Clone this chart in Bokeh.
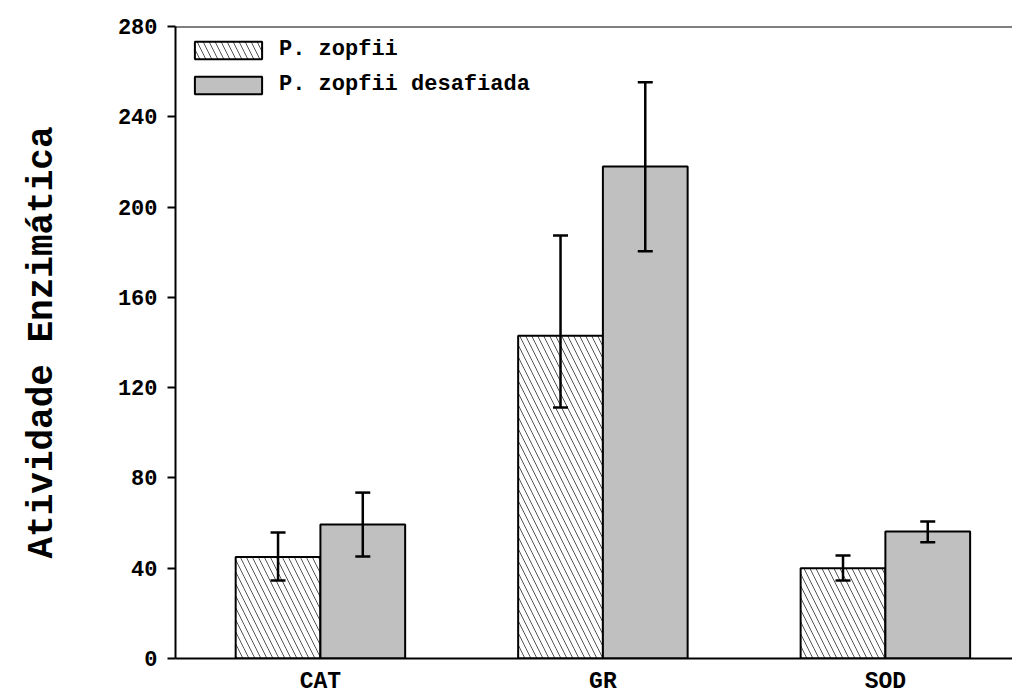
from bokeh.plotting import figure
from bokeh.models import (ColumnDataSource, Range1d, FixedTicker, Whisker, TeeHead,
                          Span, Legend, LegendItem)
from bokeh.embed import file_html
from bokeh.resources import INLINE

categories = ["CAT", "GR", "SOD"]
series_names = ["P. zopfii", "P. zopfii desafiada"]
zopfii = [45, 143, 40]
zopfii_upper = [55.8, 187.4, 45.6]
zopfii_lower = [34.6, 111.2, 34.6]
desafiada = [59.4, 218, 56.3]
desafiada_upper = [73.5, 255.3, 60.7]
desafiada_lower = [45.2, 180.4, 51.5]
y_ticks = [0, 40, 80, 120, 160, 200, 240, 280]

FONT = "Liberation Mono"
bw = 0.30
xs = list(range(len(categories)))

p = figure(width=1012, height=697, output_backend="svg", toolbar_location=None,
           x_range=Range1d(-0.513, 2.45), y_range=Range1d(0, 280),
           min_border_left=175, min_border_right=0, min_border_top=26, min_border_bottom=39)
p.outline_line_color = None
p.grid.grid_line_color = None
p.background_fill_color = "white"
p.border_fill_color = "white"

src1 = ColumnDataSource(dict(x=[x - bw / 2 for x in xs], top=zopfii, up=zopfii_upper, lo=zopfii_lower))
src2 = ColumnDataSource(dict(x=[x + bw / 2 for x in xs], top=desafiada, up=desafiada_upper, lo=desafiada_lower))

r1 = p.vbar(x="x", top="top", width=bw, bottom=0, source=src1, fill_color="white",
            line_color="black", line_width=2, hatch_pattern="\\", hatch_color="#555555",
            hatch_scale=12, hatch_weight=1)
r2 = p.vbar(x="x", top="top", width=bw, bottom=0, source=src2, fill_color="#c0c0c0",
            line_color="black", line_width=2)

for src in (src1, src2):
    w = Whisker(base="x", upper="up", lower="lo", source=src, line_width=2.5, line_color="black",
                level="overlay",
                upper_head=TeeHead(size=15, line_width=2.5, line_color="black"),
                lower_head=TeeHead(size=15, line_width=2.5, line_color="black"))
    p.add_layout(w)

p.add_layout(Span(location=280, dimension="width", line_color="black", line_width=2))

# y axis
p.yaxis.ticker = FixedTicker(ticks=y_ticks)
p.yaxis.minor_tick_line_color = None
p.yaxis.major_tick_out = 8
p.yaxis.major_tick_in = 0
p.yaxis.major_tick_line_width = 2
p.yaxis.axis_line_width = 2
p.yaxis.major_label_text_font = FONT
p.yaxis.major_label_text_font_style = "bold"
p.yaxis.major_label_text_font_size = "22px"
p.yaxis.major_label_text_color = "black"
p.yaxis.major_label_standoff = 10
p.yaxis.axis_label = "Atividade Enzimática"
p.yaxis.axis_label_text_font = FONT
p.yaxis.axis_label_text_font_style = "bold"
p.yaxis.axis_label_text_font_size = "36px"
p.yaxis.axis_label_text_color = "black"
p.yaxis.axis_label_standoff = 52

# x axis
p.xaxis.ticker = FixedTicker(ticks=xs)
p.xaxis.major_label_overrides = {i: c for i, c in enumerate(categories)}
p.xaxis.major_tick_line_color = None
p.xaxis.minor_tick_line_color = None
p.xaxis.axis_line_width = 2
p.xaxis.major_label_text_font = FONT
p.xaxis.major_label_text_font_style = "bold"
p.xaxis.major_label_text_font_size = "23px"
p.xaxis.major_label_text_color = "black"
p.xaxis.major_label_standoff = 4

legend = Legend(items=[LegendItem(label=series_names[0], renderers=[r1]),
                       LegendItem(label=series_names[1], renderers=[r2])],
                location="top_left", margin=11, padding=8, glyph_width=84, glyph_height=22,
                label_standoff=9, spacing=10, border_line_color=None, background_fill_alpha=0,
                label_text_font=FONT, label_text_font_style="bold", label_text_font_size="22px",
                label_text_color="black")
p.add_layout(legend)

open("out.html", "w").write(file_html(p, INLINE))
